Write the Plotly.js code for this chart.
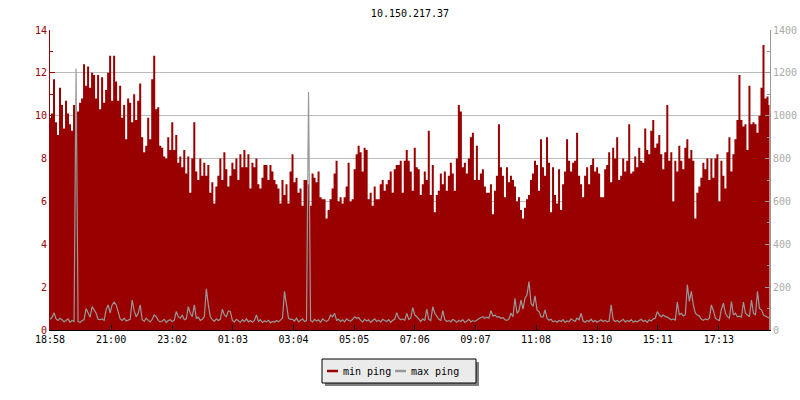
<!DOCTYPE html>
<html>
<head>
<meta charset="utf-8">
<script src="https://cdn.plot.ly/plotly-3.0.1.min.js"></script>
<style>
  html, body { margin: 0; padding: 0; background: #ffffff; }
  #chart { width: 800px; height: 400px; }
</style>
</head>
<body>
<div id="chart"></div>
<script>
// ---- data ----
const chartTitle = "10.150.217.37";
const seriesNames = ["min ping", "max ping"];

// tick labels on the time axis and their minute offsets from 18:58
const tickLabels = ["18:58", "21:00", "23:02", "01:03", "03:04", "05:05", "07:06", "09:07", "11:08", "13:10", "15:11", "17:13"];
const tickMinutes = [0, 122, 244, 365, 486, 607, 728, 849, 970, 1092, 1213, 1335];
const sampleMinutes = 4;      // one sample every 4 minutes
const spanMinutes = 1437;     // 18:58 -> 18:55 next day

// min ping (ms, left axis)
const minPing = [
  9.9,10.1,11.7,9.7,9.1,11.3,10.5,9.4,10.7,10.1,
  9.6,9.3,10.5,9.4,10.2,10.6,10.8,12.4,11.4,12.3,
  11.3,12.0,11.9,10.8,11.9,10.3,11.8,10.6,11.2,12.0,
  12.8,10.7,12.8,11.6,10.7,11.4,9.9,10.5,8.9,10.8,
  10.6,9.7,11.0,9.8,10.7,11.5,9.0,8.3,8.6,9.9,
  8.9,11.7,12.8,10.3,10.4,8.6,8.5,8.1,8.0,9.0,
  8.4,9.7,8.4,9.1,7.8,8.1,7.6,8.4,7.3,8.1,
  6.4,8.0,9.7,7.4,7.0,8.0,7.2,7.8,7.2,7.7,
  6.4,6.9,5.9,6.7,7.2,8.0,7.0,8.3,7.5,6.7,
  7.2,7.8,7.5,8.0,7.0,8.2,7.6,8.4,7.6,8.2,
  6.6,7.8,7.6,8.0,6.8,6.6,7.1,7.7,7.7,7.0,
  7.7,7.4,7.0,6.8,6.6,5.9,7.0,6.3,6.8,5.9,
  7.4,
  8.2,6.9,7.1,6.4,6.6,5.8,7.0,7.0,6.8,5.8,
  7.3,7.1,6.9,7.4,6.2,6.1,6.1,5.2,5.6,6.1,
  6.6,7.3,7.9,6.0,6.2,5.9,6.2,6.7,7.8,6.0,
  6.1,7.5,8.2,8.6,8.3,7.4,8.5,8.4,6.1,6.4,
  5.8,6.7,6.1,6.1,6.8,7.0,6.5,6.8,7.0,7.4,
  6.4,7.5,7.7,7.7,7.9,6.4,7.9,8.4,7.9,7.4,
  6.5,8.5,7.6,7.5,6.3,6.8,7.4,7.0,9.3,6.3,
  7.7,5.5,6.3,6.5,7.3,6.8,7.4,6.5,7.2,7.8,
  7.3,6.5,8.0,10.5,10.2,7.6,7.8,7.3,8.0,9.0,
  9.2,7.0,8.6,7.0,7.3,7.5,6.7,6.4,6.4,6.8,
  5.4,6.5,7.2,9.6,7.6,7.2,6.2,7.6,6.9,7.2,
  7.0,6.7,6.0,6.2,5.6,5.2,5.7,6.1,6.3,7.0,
  7.3,
  7.9,7.7,6.5,8.9,7.6,7.2,9.0,7.8,5.5,7.6,
  6.3,5.9,7.5,5.6,6.8,7.4,8.9,7.9,7.4,7.8,
  7.9,9.2,7.2,6.8,6.2,7.2,7.6,6.8,7.7,8.0,
  7.4,7.6,7.3,6.2,6.2,7.5,7.7,8.3,6.9,8.5,
  8.0,9.0,7.0,7.2,8.0,7.4,7.9,9.6,7.3,7.4,
  8.1,7.6,8.5,7.9,7.8,9.4,8.4,8.2,9.3,9.8,
  8.5,8.7,9.1,8.2,7.5,8.3,10.5,7.9,8.3,6.0,
  7.9,7.4,8.6,7.9,7.5,8.5,8.9,8.0,8.4,7.9,
  5.2,6.4,6.7,7.1,7.8,7.5,8.0,7.0,8.0,7.1,
  8.0,8.2,6.0,7.9,7.2,6.6,8.3,9.0,7.4,8.2,
  8.9,9.8,11.9,9.8,9.5,9.6,8.4,11.4,9.6,9.7,
  9.6,9.2,10.0,11.3,13.3,10.8,10.9,10.5
];

// max ping (ms, right axis)
const maxPing = [
  50,58,81,52,45,55,48,38,44,52,
  36,45,40,1220,40,35,44,48,100,78,
  60,109,95,78,50,48,52,45,94,117,
  80,117,130,117,86,52,45,55,42,48,
  50,140,90,62,78,117,48,40,55,45,
  38,50,70,62,45,38,42,50,35,44,
  48,40,46,86,62,55,70,48,52,109,
  78,62,117,55,60,45,50,62,192,117,
  62,48,40,52,44,50,97,70,62,90,
  86,45,38,50,42,35,48,40,52,38,
  44,36,45,70,40,48,35,42,38,45,
  34,40,36,44,38,48,55,180,109,55,
  50,
  50,42,55,38,45,52,40,44,1111,45,
  38,50,42,48,36,52,44,40,47,70,
  62,78,45,50,40,48,38,52,44,42,
  50,62,55,58,45,38,50,42,48,36,
  44,52,40,46,38,50,44,40,48,36,
  45,50,81,55,48,52,45,78,50,55,
  105,70,62,48,40,52,45,97,50,44,
  109,78,62,50,45,90,48,40,44,38,
  50,42,36,45,40,48,35,42,50,38,
  44,40,48,52,58,62,55,60,55,90,
  65,70,60,62,55,58,48,45,52,78,
  62,148,78,90,140,97,148,164,226,125,
  110,
  159,94,86,62,60,94,55,45,50,38,
  42,36,44,40,48,35,42,38,52,45,
  40,55,48,78,42,36,45,40,50,38,
  44,36,42,48,40,45,38,42,117,48,
  40,45,36,42,50,38,44,40,48,36,
  42,38,45,50,40,44,36,48,42,52,
  55,86,70,62,70,62,60,55,48,52,
  45,130,70,78,65,70,211,133,180,117,
  78,70,65,50,45,52,48,55,117,90,
  55,48,45,97,125,78,62,55,133,70,
  78,62,65,60,130,78,70,62,140,78,
  70,180,100,94,70,65,62,55
];

// ---- styling ----
const RED = "#990000";
const GRAY = "#999999";
const FONT = "DejaVu Sans Mono, Liberation Mono, monospace";

const W = 800, H = 400;
const M = { l: 50, r: 30, t: 30, b: 70 };
const PW = W - M.l - M.r, PH = H - M.t - M.b;
const px = x => (x - M.l) / PW;          // pixel -> paper x
const py = y => (H - M.b - y) / PH;      // pixel -> paper y

const xs = minPing.map((_, i) => i * sampleMinutes);

const traces = [
  {
    type: "scatter", mode: "lines", name: seriesNames[0],
    x: xs, y: minPing, yaxis: "y",
    line: { shape: "hvh", width: 0, color: RED },
    fill: "tozeroy", fillcolor: RED,
    hoverinfo: "skip", showlegend: false
  },
  {
    type: "scatter", mode: "lines", name: seriesNames[1],
    x: xs.slice(0, maxPing.length), y: maxPing, yaxis: "y2",
    line: { shape: "linear", width: 1.2, color: GRAY },
    hoverinfo: "skip", showlegend: false
  }
];

// custom legend box (JpGraph style, with drop shadow)
const lg = { x0: 322, x1: 476, y0: 359, y1: 383 };
const shapes = [
  { type: "rect", xref: "paper", yref: "paper", layer: "above",
    x0: px(lg.x0 + 3), x1: px(lg.x1 + 3), y0: py(lg.y1 + 3), y1: py(lg.y0 + 3),
    fillcolor: "#7f7f7f", line: { width: 0 } },
  { type: "rect", xref: "paper", yref: "paper", layer: "above",
    x0: px(lg.x0), x1: px(lg.x1), y0: py(lg.y1), y1: py(lg.y0),
    fillcolor: "#ebebeb", line: { width: 1, color: "#000000" } },
  { type: "line", xref: "paper", yref: "paper", layer: "above",
    x0: px(327), x1: px(338), y0: py(371), y1: py(371),
    line: { width: 2.5, color: RED } },
  { type: "line", xref: "paper", yref: "paper", layer: "above",
    x0: px(395), x1: px(406), y0: py(371), y1: py(371),
    line: { width: 2.5, color: GRAY } }
];
const annotations = [
  { xref: "paper", yref: "paper", x: px(341), y: py(371), xanchor: "left", yanchor: "middle",
    text: seriesNames[0], showarrow: false, font: { family: FONT, size: 10, color: "#000" } },
  { xref: "paper", yref: "paper", x: px(409), y: py(371), xanchor: "left", yanchor: "middle",
    text: seriesNames[1], showarrow: false, font: { family: FONT, size: 10, color: "#000" } }
];

const layout = {
  width: W, height: H,
  margin: M,
  paper_bgcolor: "#ffffff", plot_bgcolor: "#ffffff",
  font: { family: FONT, size: 10, color: "#000" },
  showlegend: false,
  title: {
    text: chartTitle,
    x: 0.5, xref: "paper", xanchor: "center",
    y: 1 - 13 / H, yref: "container", yanchor: "middle",
    font: { family: FONT, size: 10, color: "#000" }
  },
  xaxis: {
    range: [0, spanMinutes],
    tickmode: "array", tickvals: tickMinutes, ticktext: tickLabels,
    ticks: "inside", ticklen: 5, tickcolor: "#000", tickwidth: 1,
    showline: true, linecolor: "#000", linewidth: 1,
    showgrid: false, zeroline: false,
    tickfont: { family: FONT, size: 10, color: "#000" }
  },
  yaxis: {
    range: [0, 14], dtick: 2, tick0: 0,
    ticks: "inside", ticklen: 5, tickcolor: RED, tickwidth: 1,
    minor: { dtick: 1, ticks: "inside", ticklen: 3, tickcolor: RED, showgrid: false },
    showline: true, linecolor: RED, linewidth: 1,
    showgrid: true, gridcolor: "#bbbbbb", gridwidth: 1,
    zeroline: false,
    tickfont: { family: FONT, size: 10, color: RED }
  },
  yaxis2: {
    overlaying: "y", side: "right",
    range: [0, 1400], dtick: 200, tick0: 0,
    ticks: "inside", ticklen: 5, tickcolor: GRAY, tickwidth: 1,
    minor: { dtick: 100, ticks: "inside", ticklen: 3, tickcolor: GRAY, showgrid: false },
    showline: true, linecolor: GRAY, linewidth: 1,
    showgrid: false, zeroline: false,
    tickfont: { family: FONT, size: 10, color: "#aaaaaa" }
  },
  shapes: shapes,
  annotations: annotations
};

Plotly.newPlot("chart", traces, layout, { displayModeBar: false, staticPlot: true });
</script>
</body>
</html>
